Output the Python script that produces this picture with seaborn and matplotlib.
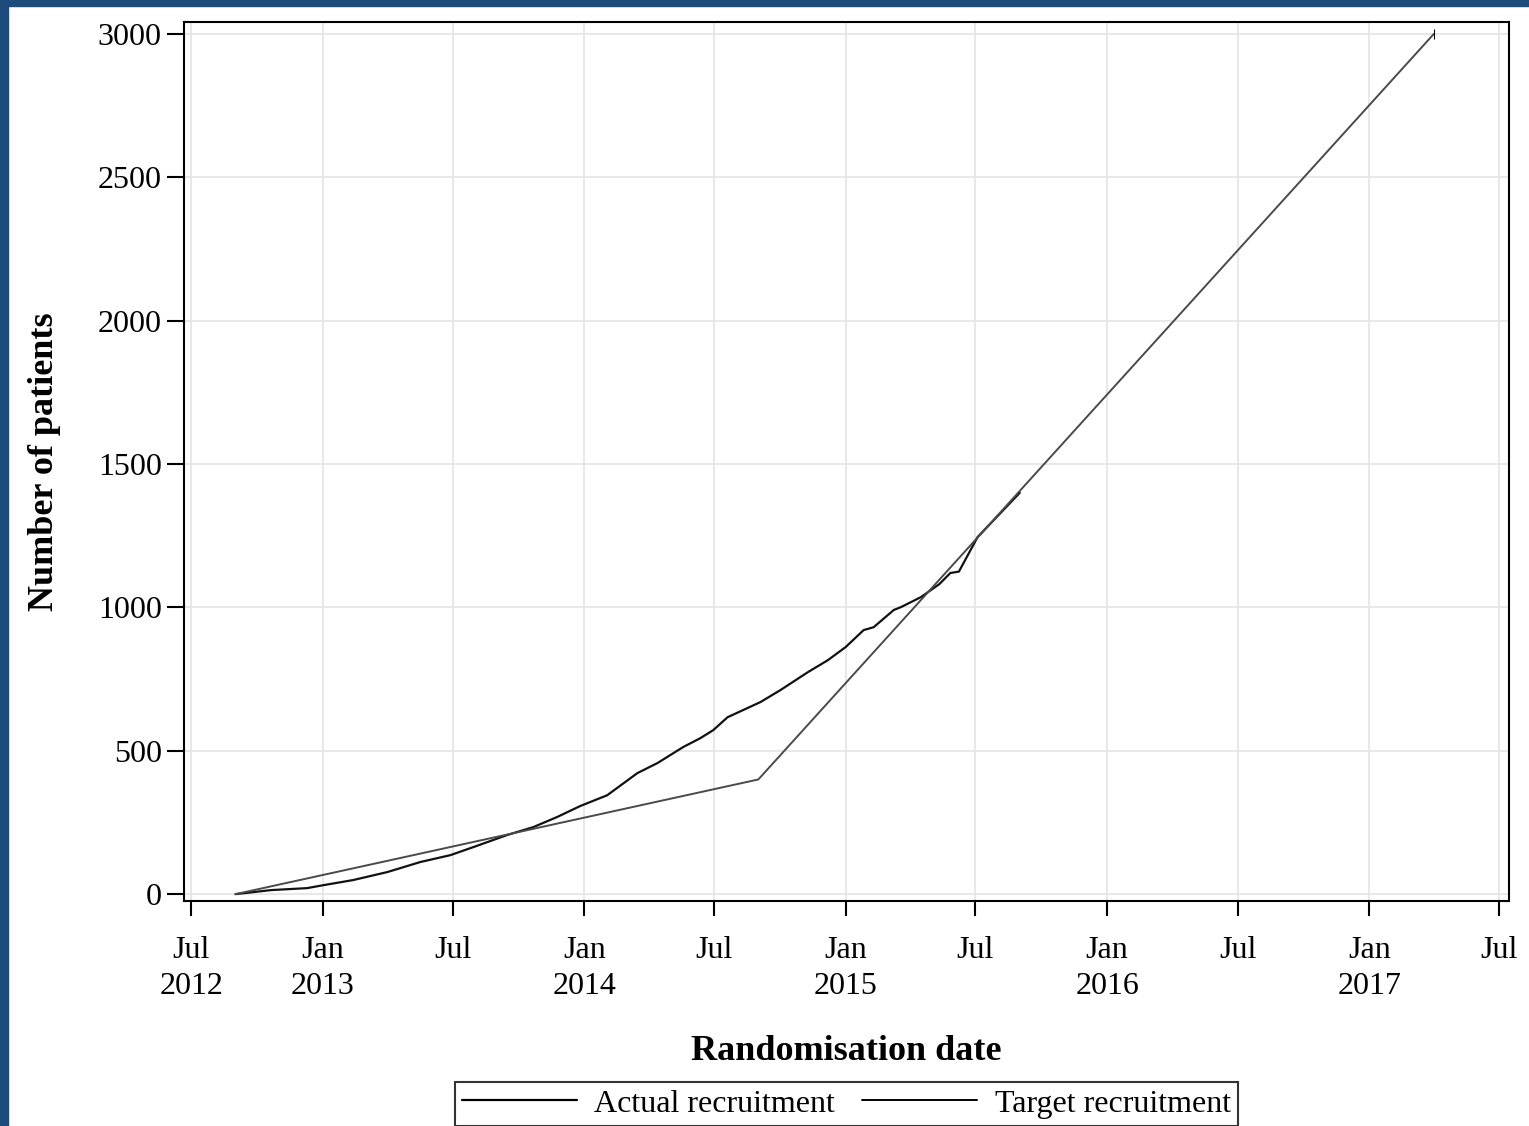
import pandas as pd
import seaborn as sns
import matplotlib.pyplot as plt
import matplotlib.dates as mdates
from matplotlib.patches import Rectangle

# Data
actual_dates = ["2012-09-01", "2012-10-20", "2012-12-10", "2013-01-01", "2013-02-12",
                "2013-04-01", "2013-05-17", "2013-06-28", "2013-07-30", "2013-09-15",
                "2013-10-22", "2013-11-24", "2013-12-26", "2014-02-02", "2014-03-16",
                "2014-04-13", "2014-05-19", "2014-06-12", "2014-06-30", "2014-07-20",
                "2014-09-04", "2014-10-02", "2014-11-09", "2014-12-07", "2015-01-01",
                "2015-01-26", "2015-02-09", "2015-03-09", "2015-03-19", "2015-04-16",
                "2015-05-12", "2015-05-27", "2015-06-08", "2015-07-04", "2015-08-29",
                "2015-09-01"]
actual_values = [0, 14, 21, 31, 49,
                 77, 112, 136, 164, 206,
                 234, 269, 307, 345, 422,
                 457, 513, 544, 572, 617,
                 670, 712, 774, 816, 862,
                 921, 931, 991, 1001, 1036,
                 1082, 1120, 1125, 1245, 1392,
                 1400]

target_dates = ["2012-09-01", "2014-09-01", "2017-04-01"]
target_values = [0, 400, 3000]

tick_dates = ["2012-07-01", "2013-01-01", "2013-07-01", "2014-01-01", "2014-07-01",
              "2015-01-01", "2015-07-01", "2016-01-01", "2016-07-01", "2017-01-01",
              "2017-07-01"]
tick_labels = ["Jul\n2012", "Jan\n2013", "Jul\n", "Jan\n2014", "Jul\n", "Jan\n2015",
               "Jul\n", "Jan\n2016", "Jul\n", "Jan\n2017", "Jul\n"]
y_ticks = [0, 500, 1000, 1500, 2000, 2500, 3000]

actual = pd.DataFrame({"date": pd.to_datetime(actual_dates), "patients": actual_values})
target = pd.DataFrame({"date": pd.to_datetime(target_dates), "patients": target_values})

sns.set_style("whitegrid", {"grid.color": "#e6e6e6", "axes.edgecolor": "black"})
plt.rcParams['font.family'] = ['Liberation Serif', 'DejaVu Serif']
plt.rcParams['text.color'] = 'black'
plt.rcParams['axes.labelcolor'] = 'black'
plt.rcParams['xtick.color'] = 'black'
plt.rcParams['ytick.color'] = 'black'

fig = plt.figure(figsize=(15.29, 11.26), dpi=100)
fig.patch.set_facecolor("white")
ax = fig.add_axes([0.1203, 0.1998, 0.8666, 0.7807])

sns.lineplot(data=actual, x="date", y="patients", ax=ax, color="#111111",
             linewidth=1.6, label="Actual recruitment")
sns.lineplot(data=target, x="date", y="patients", ax=ax, color="#4a4a4a",
             linewidth=1.4, label="Target recruitment",
             marker="|", markevery=[-1], markersize=7, markeredgecolor="black")

ax.set_xlim(pd.Timestamp("2012-06-21"), pd.Timestamp("2017-07-15"))
ax.set_ylim(-24, 3042)
ax.set_xticks(mdates.date2num(pd.to_datetime(tick_dates)))
ax.set_xticklabels(tick_labels, fontsize=23, linespacing=1.35)
ax.set_yticks(y_ticks)
ax.set_yticklabels([str(v) for v in y_ticks], fontsize=23)
ax.tick_params(axis="x", bottom=True, direction="out", length=11, width=1.5, pad=14,
               color="black")
ax.tick_params(axis="y", left=True, direction="out", length=12, width=1.5, pad=4,
               color="black")
for s in ax.spines.values():
    s.set_linewidth(1.5)
    s.set_color("black")
ax.grid(True, color="#e6e6e6", linewidth=1.3)

ax.set_xlabel("Randomisation date", fontsize=26, fontweight="bold")
ax.set_ylabel("Number of patients", fontsize=26, fontweight="bold")
ax.xaxis.set_label_coords(0.5, -0.152)
ax.yaxis.set_label_coords(-0.093, 0.5)

leg = ax.legend(loc="upper center", bbox_to_anchor=(0.5, -0.206), ncol=2,
                fontsize=23, frameon=True, fancybox=False, borderaxespad=0,
                handlelength=3.6, handletextpad=0.55, columnspacing=0.85,
                borderpad=0.22)
leg.get_frame().set_edgecolor("black")
leg.get_frame().set_linewidth(1.5)
for h in leg.get_lines():
    h.set_color("black")
    h.set_marker("")

# blue slide border on left and top
fig.patches.append(Rectangle((0, 0), 8 / 1529, 1, transform=fig.transFigure,
                             color="#1e4a7c", zorder=10))
fig.patches.append(Rectangle((0, 1 - 6 / 1126), 1, 6 / 1126, transform=fig.transFigure,
                             color="#1e4a7c", zorder=10))

fig.savefig("out.png", dpi=100)
